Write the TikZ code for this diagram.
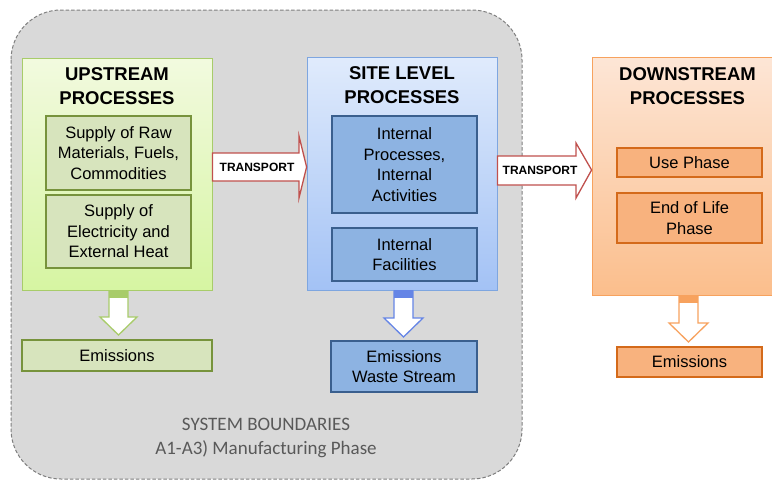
\documentclass[tikz,border=0pt]{standalone}
\usepackage{fontspec}
\setmainfont{Liberation Sans}
\newfontfamily\carl{Carlito}
\usetikzlibrary{calc}
\definecolor{bggray}{HTML}{D9D9D9}
\definecolor{dashgray}{HTML}{7F7F7F}
\definecolor{gtop}{HTML}{F2FADF}
\definecolor{gbot}{HTML}{D6F5A2}
\definecolor{gborder}{HTML}{A8CC6A}
\definecolor{ginner}{HTML}{D7E4BD}
\definecolor{ginborder}{HTML}{77933C}
\definecolor{btop}{HTML}{E0EBFC}
\definecolor{bbot}{HTML}{A3C2F5}
\definecolor{bborder}{HTML}{7EA6E0}
\definecolor{binner}{HTML}{8DB3E2}
\definecolor{binborder}{HTML}{3A5F8E}
\definecolor{otop}{HTML}{FDE6D6}
\definecolor{obot}{HTML}{FBBE8C}
\definecolor{oborder}{HTML}{F7A25E}
\definecolor{oinner}{HTML}{F8B27E}
\definecolor{oinborder}{HTML}{D46A1A}
\definecolor{redarrow}{HTML}{C0504D}
\definecolor{boundtext}{HTML}{595959}
\tikzset{
  bigbox/.style={draw, line width=0.8pt, minimum width=190pt},
  titletext/.style={font=\fontsize{18.5}{24}\selectfont\bfseries, align=center, text=black},
  innerbox/.style={draw, line width=1.3pt, minimum width=145pt, align=center, font=\fontsize{16.5}{20.5}\selectfont, inner sep=0pt},
  tarrow/.style={draw=redarrow, fill=white, line width=1.3pt, line join=miter},
  ttext/.style={font=\fontsize{12}{14}\selectfont\bfseries, inner sep=0pt},
  darrow/.style={fill=white, line width=1.3pt, line join=miter},
}
\begin{document}
\begin{tikzpicture}[x=1pt,y=-1pt]
\useasboundingbox (0,0) rectangle (772,480);
% system boundary
\draw[fill=bggray, draw=dashgray, line width=1pt, dash pattern=on 3.5pt off 2pt, rounded corners=50pt] (11,10) rectangle (522,479);
\node[font=\carl\fontsize{19}{24}\selectfont, text=boundtext, align=center] (sb) at (266,438) {SYSTEM BOUNDARIES\\A1-A3) Manufacturing Phase};

% upstream
\node[bigbox, draw=gborder, top color=gtop, bottom color=gbot, minimum height=232pt] (up) at (117,174) {};
\node[titletext] (uptitle) at (117,86) {UPSTREAM\\PROCESSES};
\node[innerbox, draw=ginborder, fill=ginner, minimum height=74pt] (up1) at (118.5,153) {Supply of Raw\\Materials, Fuels,\\Commodities};
\node[innerbox, draw=ginborder, fill=ginner, minimum height=73pt] (up2) at (118.5,231.5) {Supply of\\Electricity and\\External Heat};
\node[innerbox, draw=ginborder, fill=ginner, minimum width=190pt, minimum height=31pt] (upem) at (117,355.5) {Emissions};
\draw[darrow, draw=gborder] (109,291) -- (109,317) -- (100,317) -- (118.5,335) -- (137,317) -- (128,317) -- (128,291) -- cycle;
\fill[gborder] (109,290) rectangle (128,298);

% site
\node[bigbox, draw=bborder, top color=btop, bottom color=bbot, minimum height=233pt] (site) at (402,173.5) {};
\node[titletext] (sitetitle) at (402,85.5) {SITE LEVEL\\PROCESSES};
\node[innerbox, draw=binborder, fill=binner, minimum height=97pt] (site1) at (404.5,164.5) {Internal\\Processes,\\Internal\\Activities};
\node[innerbox, draw=binborder, fill=binner, minimum height=53pt] (site2) at (404.5,254.5) {Internal\\Facilities};
\node[innerbox, draw=binborder, fill=binner, minimum width=146pt, minimum height=51pt] (siteem) at (404,366.5) {Emissions\\Waste Stream};
\draw[darrow, draw=bborder!80!blue] (394,291) -- (394,318) -- (384,318) -- (403.5,337) -- (423,318) -- (413,318) -- (413,291) -- cycle;
\fill[bborder!80!blue] (394,290) rectangle (413,298);

% downstream
\node[bigbox, draw=oborder, top color=otop, bottom color=obot, minimum width=195pt, minimum height=238pt] (down) at (689.5,176) {};
\node[titletext] (downtitle) at (687.5,86) {DOWNSTREAM\\PROCESSES};
\node[innerbox, draw=oinborder, fill=oinner, minimum height=29pt] (use) at (689.5,162.5) {Use Phase};
\node[innerbox, draw=oinborder, fill=oinner, minimum height=50pt] (eol) at (689.5,218) {End of Life\\Phase};
\node[innerbox, draw=oinborder, fill=oinner, minimum height=30pt] (downem) at (689.5,362) {Emissions};
\draw[darrow, draw=oborder] (679,296) -- (679,323) -- (669,323) -- (688.5,342) -- (708,323) -- (698,323) -- (698,296) -- cycle;
\fill[oborder] (679,295) rectangle (698,303);

% transport arrows
\draw[tarrow] (up.east |- 0,153) -- (299,153) -- (299,136) -- (site.west |- 0,167) -- (299,198) -- (299,181) -- (up.east |- 0,181) -- cycle;
\node[ttext] (t1) at (257,167) {TRANSPORT};
\draw[tarrow] (site.east |- 0,156) -- (576,156) -- (576,143) -- (down.west |- 0,170) -- (576,198) -- (576,185) -- (site.east |- 0,185) -- cycle;
\node[ttext] (t2) at (540,170.5) {TRANSPORT};
\end{tikzpicture}
\end{document}
